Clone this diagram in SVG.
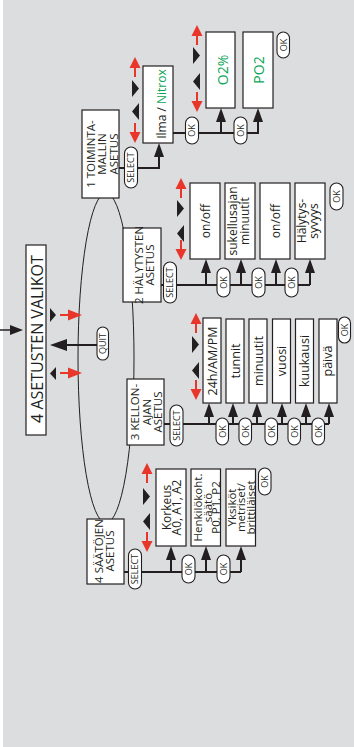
<svg xmlns="http://www.w3.org/2000/svg" xmlns:xlink="http://www.w3.org/1999/xlink" width="354" height="747" viewBox="0 0 354 747">
  <style>
    .bx { fill:#fff; stroke:#231f20; stroke-width:1.2; }
    .pl { fill:#fff; stroke:#231f20; stroke-width:1.1; }
    .t { font-family:"Open Sans","Noto Sans",sans-serif; font-size:12px; fill:#231f20; text-anchor:middle; }
    .s { font-size:11.5px; }
    .p { font-size:9px; }
    .gr { fill:#0aa655; }
    .ln { fill:none; stroke:#231f20; stroke-width:2; }
    .el { fill:none; stroke:#231f20; stroke-width:1; }
    .red { stroke:#e8362b; stroke-width:2; fill:none; }
  </style>
  <defs>
    <path id="ah" d="M0,0 L-5,14 L5,14 Z" fill="#231f20"/>
    <g id="ru"><path d="M0,0 L-5.5,11 L5.5,11 Z" fill="#e8362b"/><line class="red" x1="0" y1="10" x2="0" y2="20"/></g>
    <g id="rdn"><line class="red" x1="0" y1="0" x2="0" y2="10"/><path d="M0,20 L-5.5,9 L5.5,9 Z" fill="#e8362b"/></g>
    <g id="rr"><line class="red" x1="0" y1="0" x2="10" y2="0"/><path d="M22,0 L8,-5.5 L8,5.5 Z" fill="#e8362b"/></g>
    <path id="tr" d="M0,0 L7,8.5 L0,17 Z" fill="#231f20"/>
    <path id="tl" d="M7,0 L0,8.5 L7,17 Z" fill="#231f20"/>
  </defs>

  <rect x="3" y="0" width="351" height="747" fill="#dcdddf"/>

  <!-- loop joining the four setting menus -->
  <ellipse class="el" cx="106" cy="358" rx="28" ry="165"/>

  <g id="connectors">
    <!-- entry into the settings menu -->
    <line x1="0" y1="330" x2="12" y2="330" stroke="#231f20" stroke-width="1.5"/>
    <path d="M23,330 L10,325 L10,335 Z" fill="#231f20"/>
    <!-- QUIT back to menu -->
    <line x1="97" y1="345" x2="64" y2="345" stroke="#231f20" stroke-width="2.2"/>
    <path d="M50,345 L67,339 L67,351 Z" fill="#231f20"/>
    <use href="#rr" x="60" y="315"/>
    <use href="#rr" x="60" y="373"/>
    <path d="M50,308 L56,315 L50,322 Z" fill="#231f20"/>
    <path d="M56,367 L50,373.5 L56,380 Z" fill="#231f20"/>

    <!-- 1: mode -->
    <path class="ln" d="M119,168 H159 V156"/>
    <use href="#ah" x="159" y="143"/>
    <path class="ln" d="M173,133 H258 V121 M221,133 V121"/>
    <use href="#ah" x="221" y="108"/>
    <use href="#ah" x="258" y="108"/>
    <use href="#ru" x="135" y="57"/>
    <use href="#rdn" x="135" y="123"/>
    <use href="#tr" x="132" y="80"/>
    <use href="#tl" x="132" y="103"/>
    <use href="#ru" x="197" y="25"/>
    <use href="#rdn" x="197" y="92"/>
    <use href="#tr" x="193" y="47"/>
    <use href="#tl" x="193" y="73"/>

    <!-- 2: alarms -->
    <path class="ln" d="M161,285 H310 M206,285 V272 M241,285 V272 M276,285 V272 M310,285 V272"/>
    <use href="#ah" x="206" y="259"/>
    <use href="#ah" x="241" y="259"/>
    <use href="#ah" x="276" y="259"/>
    <use href="#ah" x="310" y="259"/>
    <use href="#ru" x="181" y="178"/>
    <use href="#rdn" x="181" y="240"/>
    <use href="#tr" x="177" y="200"/>
    <use href="#tl" x="177" y="225"/>

    <!-- 3: clock -->
    <path class="ln" d="M164,424 H329 M209,424 V416 M233,424 V416 M257,424 V416 M282,424 V416 M306,424 V416 M329,424 V416"/>
    <use href="#ah" x="209" y="403"/>
    <use href="#ah" x="233" y="403"/>
    <use href="#ah" x="257" y="403"/>
    <use href="#ah" x="282" y="403"/>
    <use href="#ah" x="306" y="403"/>
    <use href="#ah" x="329" y="403"/>
    <use href="#ru" x="196" y="313"/>
    <use href="#rdn" x="196" y="380"/>
    <use href="#tr" x="192" y="336"/>
    <use href="#tl" x="192" y="362"/>

    <!-- 4: adjustments -->
    <path class="ln" d="M124,572 H241 M171,572 V559 M206,572 V559 M241,572 V559"/>
    <use href="#ah" x="171" y="546"/>
    <use href="#ah" x="206" y="546"/>
    <use href="#ah" x="241" y="546"/>
    <use href="#ru" x="147" y="463"/>
    <use href="#rdn" x="147" y="532"/>
    <use href="#tr" x="143" y="488"/>
    <use href="#tl" x="143" y="513"/>
  </g>

  <!-- main menu -->
  <g id="menu">
    <rect class="bx" x="26" y="245" width="20" height="190"/>
    <text class="t" style="font-size:16px" transform="translate(43,339) rotate(-90)">4 ASETUSTEN VALIKOT</text>
  </g>
  <g id="quit">
    <rect class="pl" x="97" y="327" width="11.5" height="33" rx="5.75"/>
    <text class="t p" transform="translate(106,343.5) rotate(-90)">QUIT</text>
  </g>

  <!-- 1 mode setup -->
  <g id="mode">
    <rect class="bx" x="82" y="110" width="37" height="88"/>
    <text class="t s" transform="translate(95,154) rotate(-90)">1 TOIMINTA-</text>
    <text class="t s" transform="translate(106,154) rotate(-90)">MALLIN</text>
    <text class="t s" transform="translate(117.5,154) rotate(-90)">ASETUS</text>
  </g>
  <g id="mode-select">
    <rect class="pl" x="124.5" y="147" width="13" height="41" rx="6.5"/>
    <text class="t p" transform="translate(134.3,167.5) rotate(-90)">SELECT</text>
  </g>
  <g id="gas">
    <rect class="bx" x="143" y="66" width="30" height="77"/>
    <text class="t" transform="translate(165.5,104) rotate(-90)">Ilma / <tspan class="gr">Nitrox</tspan></text>
  </g>
  <g id="gas-ok">
    <rect class="pl" x="185.5" y="117" width="13" height="27" rx="6.5"/>
    <text class="t p" transform="translate(195.3,130.5) rotate(-90)">OK</text>
  </g>
  <g id="o2">
    <rect class="bx" x="206" y="32" width="29" height="76"/>
    <text class="t gr" style="font-size:14px" transform="translate(227.5,70) rotate(-90)">O2%</text>
  </g>
  <g id="o2-ok">
    <rect class="pl" x="234" y="117" width="13" height="27" rx="6.5"/>
    <text class="t p" transform="translate(243.8,130.5) rotate(-90)">OK</text>
  </g>
  <g id="po2">
    <rect class="bx" x="243" y="32" width="30" height="76"/>
    <text class="t gr" style="font-size:14px" transform="translate(264,70) rotate(-90)">PO2</text>
  </g>
  <g id="po2-ok">
    <rect class="pl" x="277" y="32" width="12.5" height="26" rx="6.25"/>
    <text class="t p" transform="translate(286.5,45) rotate(-90)">OK</text>
  </g>

  <!-- 2 alarm setup -->
  <g id="alarms">
    <rect class="bx" x="123" y="228" width="38" height="74"/>
    <text class="t s" transform="translate(142.5,265) rotate(-90)">2 HÄLYTYSTEN</text>
    <text class="t s" transform="translate(153.5,265) rotate(-90)">ASETUS</text>
  </g>
  <g id="alarms-select">
    <rect class="pl" x="163.5" y="262" width="13" height="41" rx="6.5"/>
    <text class="t p" transform="translate(173.3,282.5) rotate(-90)">SELECT</text>
  </g>
  <g id="dive-alarm">
    <rect class="bx" x="190" y="183" width="30" height="76"/>
    <text class="t" transform="translate(209.5,221) rotate(-90)">on/off</text>
  </g>
  <g id="dive-alarm-ok">
    <rect class="pl" x="217" y="268" width="13" height="29" rx="6.5"/>
    <text class="t p" transform="translate(226.8,282.5) rotate(-90)">OK</text>
  </g>
  <g id="dive-minutes">
    <rect class="bx" x="225" y="183" width="30" height="76"/>
    <text class="t" transform="translate(236.5,221) rotate(-90)">sukellusajan</text>
    <text class="t" transform="translate(248.5,221) rotate(-90)">minuutit</text>
  </g>
  <g id="dive-minutes-ok">
    <rect class="pl" x="252" y="268" width="13" height="29" rx="6.5"/>
    <text class="t p" transform="translate(261.8,282.5) rotate(-90)">OK</text>
  </g>
  <g id="depth-alarm">
    <rect class="bx" x="260" y="183" width="30" height="76"/>
    <text class="t" transform="translate(279.5,221) rotate(-90)">on/off</text>
  </g>
  <g id="depth-alarm-ok">
    <rect class="pl" x="285" y="268" width="13" height="29" rx="6.5"/>
    <text class="t p" transform="translate(294.8,282.5) rotate(-90)">OK</text>
  </g>
  <g id="alarm-depth">
    <rect class="bx" x="295" y="183" width="30" height="76"/>
    <text class="t" transform="translate(306,221) rotate(-90)">Hälytys-</text>
    <text class="t" transform="translate(318,221) rotate(-90)">syvyys</text>
  </g>
  <g id="alarm-depth-ok">
    <rect class="pl" x="330" y="183" width="13" height="27" rx="6.5"/>
    <text class="t p" transform="translate(339.8,196.5) rotate(-90)">OK</text>
  </g>

  <!-- 3 clock setup -->
  <g id="clock">
    <rect class="bx" x="127" y="379" width="37" height="66"/>
    <text class="t s" transform="translate(138.5,412) rotate(-90)">3 KELLON-</text>
    <text class="t s" transform="translate(150.5,412) rotate(-90)">AJAN</text>
    <text class="t s" transform="translate(162,412) rotate(-90)">ASETUS</text>
  </g>
  <g id="clock-select">
    <rect class="pl" x="170" y="405" width="13" height="41" rx="6.5"/>
    <text class="t p" transform="translate(179.8,425.5) rotate(-90)">SELECT</text>
  </g>
  <g id="format">
    <rect class="bx" x="203" y="318" width="18" height="85"/>
    <text class="t" style="font-size:12.5px" transform="translate(216.5,361) rotate(-90)">24h/AM/PM</text>
  </g>
  <g id="format-ok">
    <rect class="pl" x="216" y="418" width="12.5" height="27" rx="6.25"/>
    <text class="t p" transform="translate(225.5,431.5) rotate(-90)">OK</text>
  </g>
  <g id="hours">
    <rect class="bx" x="226" y="319" width="18" height="84"/>
    <text class="t" style="font-size:12.5px" transform="translate(239.5,361) rotate(-90)">tunnit</text>
  </g>
  <g id="hours-ok">
    <rect class="pl" x="239" y="418" width="12.5" height="27" rx="6.25"/>
    <text class="t p" transform="translate(248.5,431.5) rotate(-90)">OK</text>
  </g>
  <g id="minutes">
    <rect class="bx" x="249" y="319" width="18" height="84"/>
    <text class="t" style="font-size:12.5px" transform="translate(262.5,361) rotate(-90)">minuutit</text>
  </g>
  <g id="minutes-ok">
    <rect class="pl" x="265" y="418" width="12.5" height="27" rx="6.25"/>
    <text class="t p" transform="translate(274.5,431.5) rotate(-90)">OK</text>
  </g>
  <g id="year">
    <rect class="bx" x="272.5" y="319" width="18" height="84"/>
    <text class="t" style="font-size:12.5px" transform="translate(286,361) rotate(-90)">vuosi</text>
  </g>
  <g id="year-ok">
    <rect class="pl" x="288" y="418" width="12.5" height="27" rx="6.25"/>
    <text class="t p" transform="translate(297.5,431.5) rotate(-90)">OK</text>
  </g>
  <g id="month">
    <rect class="bx" x="295.5" y="319" width="18" height="84"/>
    <text class="t" style="font-size:12.5px" transform="translate(309,361) rotate(-90)">kuukausi</text>
  </g>
  <g id="month-ok">
    <rect class="pl" x="312" y="418" width="12.5" height="27" rx="6.25"/>
    <text class="t p" transform="translate(321.5,431.5) rotate(-90)">OK</text>
  </g>
  <g id="day">
    <rect class="bx" x="319" y="319" width="18" height="84"/>
    <text class="t" style="font-size:12.5px" transform="translate(331.5,361) rotate(-90)">päivä</text>
  </g>
  <g id="day-ok">
    <rect class="pl" x="338.5" y="317" width="12" height="26" rx="6"/>
    <text class="t p" transform="translate(347.8,330) rotate(-90)">OK</text>
  </g>

  <!-- 4 adjustment setup -->
  <g id="adjust">
    <rect class="bx" x="87" y="519" width="37" height="65"/>
    <text class="t s" transform="translate(103,551) rotate(-90)">4 SÄÄTÖJEN</text>
    <text class="t s" transform="translate(113.5,551) rotate(-90)">ASETUS</text>
  </g>
  <g id="adjust-select">
    <rect class="pl" x="128.5" y="549" width="13" height="40" rx="6.5"/>
    <text class="t p" transform="translate(138.3,569) rotate(-90)">SELECT</text>
  </g>
  <g id="altitude">
    <rect class="bx" x="156" y="469" width="30" height="77"/>
    <text class="t" transform="translate(170.5,507.5) rotate(-90)">Korkeus</text>
    <text class="t" transform="translate(180.5,507.5) rotate(-90)">A0, A1, A2</text>
  </g>
  <g id="altitude-ok">
    <rect class="pl" x="182" y="555" width="13" height="28" rx="6.5"/>
    <text class="t p" transform="translate(191.8,569) rotate(-90)">OK</text>
  </g>
  <g id="personal">
    <rect class="bx" x="191" y="469" width="29.5" height="77"/>
    <text class="t s" transform="translate(202,507.5) rotate(-90)">Henkilökoht.</text>
    <text class="t s" transform="translate(211.5,507.5) rotate(-90)">säätö</text>
    <text class="t s" transform="translate(220,507.5) rotate(-90)">P0, P1, P2</text>
  </g>
  <g id="personal-ok">
    <rect class="pl" x="217" y="555" width="13" height="28" rx="6.5"/>
    <text class="t p" transform="translate(226.8,569) rotate(-90)">OK</text>
  </g>
  <g id="units">
    <rect class="bx" x="226" y="469" width="29.5" height="77"/>
    <text class="t s" transform="translate(235.5,507.5) rotate(-90)">Yksiköt</text>
    <text class="t s" transform="translate(245,507.5) rotate(-90)">metriset/</text>
    <text class="t s" transform="translate(254.5,507.5) rotate(-90)">brittiläiset</text>
  </g>
  <g id="units-ok">
    <rect class="pl" x="258.5" y="468" width="12.5" height="27" rx="6.25"/>
    <text class="t p" transform="translate(268,481.5) rotate(-90)">OK</text>
  </g>
</svg>
